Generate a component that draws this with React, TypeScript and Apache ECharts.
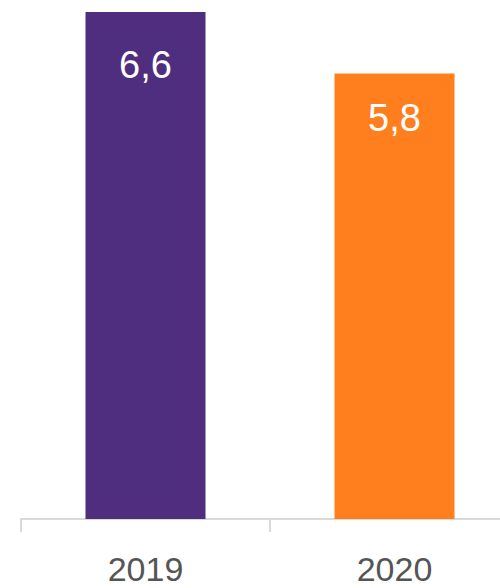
import React, { useEffect, useRef } from "react";
import * as echarts from "echarts";

const categories = ["2019", "2020"];
const values = [6.6, 5.8];
const barColors = ["#4f2d7f", "#ff7f1f"];
const labelOffsets = [34, 26];

export default function App() {
  const ref = useRef<HTMLDivElement>(null);
  useEffect(() => {
    const chart = echarts.init(ref.current!, null, { renderer: "svg" });
    const font = "'Liberation Sans Narrow', 'Liberation Sans', sans-serif";
    chart.setOption({
      animation: false,
      grid: { left: 21, width: 498, top: 12, bottom: 69, containLabel: false, outerBoundsMode: "none" },
      xAxis: {
        type: "category",
        data: categories,
        axisLine: { show: true, lineStyle: { color: "#d9d9d9", width: 2 } },
        axisTick: { show: true, length: 13, lineStyle: { color: "#d9d9d9", width: 2 } },
        axisLabel: { color: "#555555", fontSize: 34, lineHeight: 28, fontFamily: font, margin: 36 },
      },
      yAxis: {
        type: "value",
        min: 0,
        max: 6.6,
        show: false,
        splitLine: { show: false },
      },
      series: [
        {
          type: "bar",
          barWidth: 120,
          data: values.map((v, i) => ({
            value: v,
            itemStyle: { color: barColors[i] },
            label: { distance: labelOffsets[i] },
          })),
          label: {
            show: true,
            position: "insideTop",
            color: "#ffffff",
            fontSize: 38,
            fontFamily: font,
            formatter: (p: any) => String(p.value).replace(".", ","),
          },
        },
      ],
    });
    return () => chart.dispose();
  }, []);
  return <div ref={ref} style={{ width: 500, height: 588, position: "absolute", left: 0, top: 0, overflow: "hidden" }} />;
}
